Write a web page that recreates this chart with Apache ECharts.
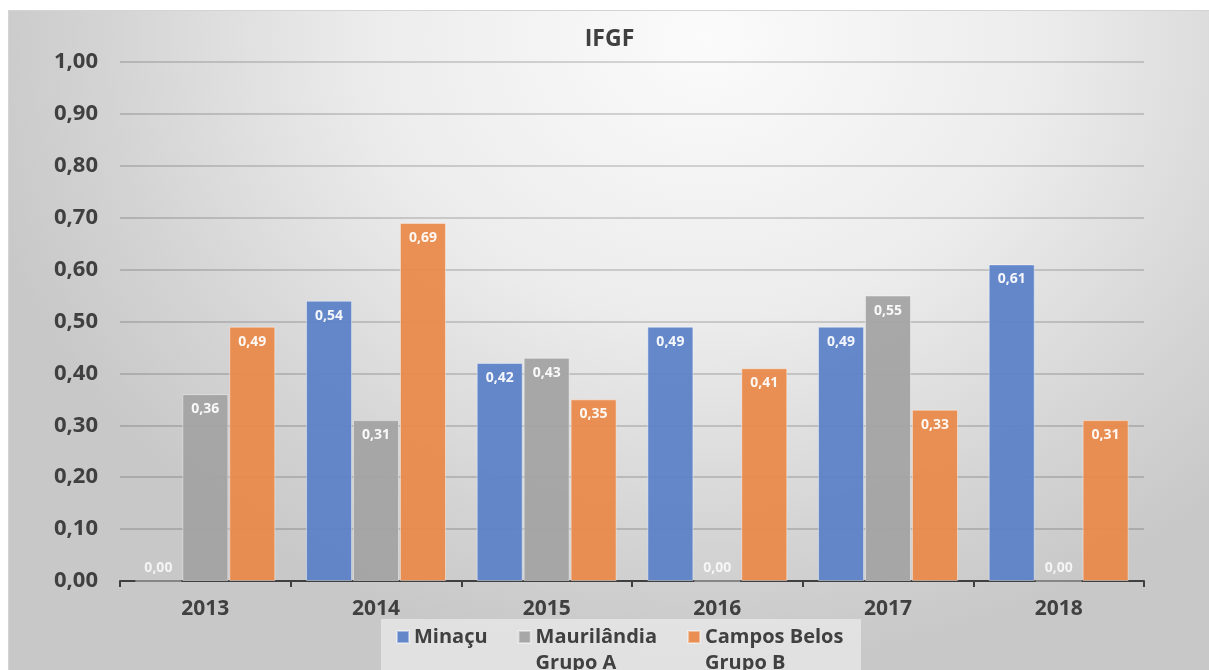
<!DOCTYPE html>
<html>
<head>
<meta charset="utf-8">
<script src="https://cdn.jsdelivr.net/npm/echarts@6/dist/echarts.min.js"></script>
<style>
  html, body { margin: 0; padding: 0; background: #ffffff; }
  #box {
    position: absolute; left: 8px; top: 10px; width: 1201px; height: 660px;
    border-top: 1px solid #d4d4d4; border-left: 1px solid #d4d4d4;
    background: radial-gradient(ellipse 62% 95% at 58% 4%, #fbfbfb 0%, #ececec 45%, #d4d4d4 80%, #c8c8c8 100%);
  }
  #main { width: 1201px; height: 660px; }
</style>
</head>
<body>
<div id="box"><div id="main"></div></div>
<script>
// dados do gráfico IFGF
var anos = ['2013', '2014', '2015', '2016', '2017', '2018'];
var minacu = [0.00, 0.54, 0.42, 0.49, 0.49, 0.61];
var maurilandia = [0.36, 0.31, 0.43, 0.00, 0.55, 0.00];
var camposBelos = [0.49, 0.69, 0.35, 0.41, 0.33, 0.31];
var nomes = ['Minaçu', 'Maurilândia\nGrupo A', 'Campos Belos\nGrupo B'];
var cores = ['#5a80c8', '#a3a3a3', '#ea8948'];

var chart = echarts.init(document.getElementById('main'));

// formato brasileiro 0,00
function fmt(v) {
  return Number(v).toFixed(2).replace('.', ',');
}

// barras com valor zero: rótulo acima da linha do eixo
function montaDados(arr) {
  return arr.map(function (v) {
    if (v === 0) {
      return { value: v, label: { position: 'top', distance: 5, color: 'rgba(255,255,255,0.85)' } };
    }
    return v;
  });
}

function serie(i, arr) {
  return {
    name: nomes[i],
    type: 'bar',
    data: montaDados(arr),
    barGap: '2%',
    barCategoryGap: '18%',
    itemStyle: {
      color: cores[i],
      opacity: 0.93,
      borderColor: 'rgba(255,255,255,0.45)',
      borderWidth: 1
    },
    label: {
      show: true,
      position: 'insideTop',
      distance: 8,
      color: '#ffffff',
      fontFamily: 'Open Sans',
      fontWeight: 'bold',
      fontSize: 14,
      formatter: function (p) { return fmt(p.value); }
    }
  };
}

var option = {
  animation: false,
  backgroundColor: 'transparent',
  title: {
    text: 'IFGF',
    left: 'center',
    top: 12,
    textStyle: { fontFamily: 'Open Sans', fontWeight: 'bold', fontSize: 23, color: '#404040' }
  },
  // fundo da legenda
  graphic: [{
    type: 'rect',
    left: 372,
    top: 608,
    shape: { width: 480, height: 60 },
    style: { fill: 'rgba(242,242,242,0.6)' },
    silent: true,
    z: -1
  }],
  legend: {
    left: 387,
    top: 587,
    padding: 0,
    itemWidth: 12,
    itemHeight: 12,
    itemGap: 30,
    icon: 'rect',
    textStyle: { fontFamily: 'Open Sans', fontWeight: 'bold', fontSize: 20, color: '#404040', lineHeight: 26 },
    // linha vazia antes do nome de duas linhas: quadrado alinhado à primeira linha
    formatter: function (name) {
      return name.indexOf('\n') >= 0 ? ' \n' + name : name;
    },
    data: nomes
  },
  grid: { left: 111, right: 66, top: 51, bottom: 90 },
  xAxis: {
    type: 'category',
    data: anos,
    axisLine: { lineStyle: { color: '#404040', width: 2 } },
    axisTick: { show: true, length: 6, lineStyle: { color: '#404040', width: 2 } },
    axisLabel: { margin: 18, fontFamily: 'Open Sans', fontWeight: 'bold', fontSize: 21, color: '#404040' }
  },
  yAxis: {
    type: 'value',
    min: 0,
    max: 1,
    interval: 0.1,
    axisLine: { show: false },
    axisTick: { show: false },
    splitLine: { lineStyle: { color: 'rgba(0,0,0,0.2)', width: 1.5 } },
    axisLabel: {
      margin: 22,
      fontFamily: 'Open Sans', fontWeight: 'bold', fontSize: 22, color: '#404040',
      formatter: function (v) { return fmt(v); }
    }
  },
  series: [
    serie(0, minacu),
    serie(1, maurilandia),
    serie(2, camposBelos)
  ]
};

chart.setOption(option);
</script>
</body>
</html>
